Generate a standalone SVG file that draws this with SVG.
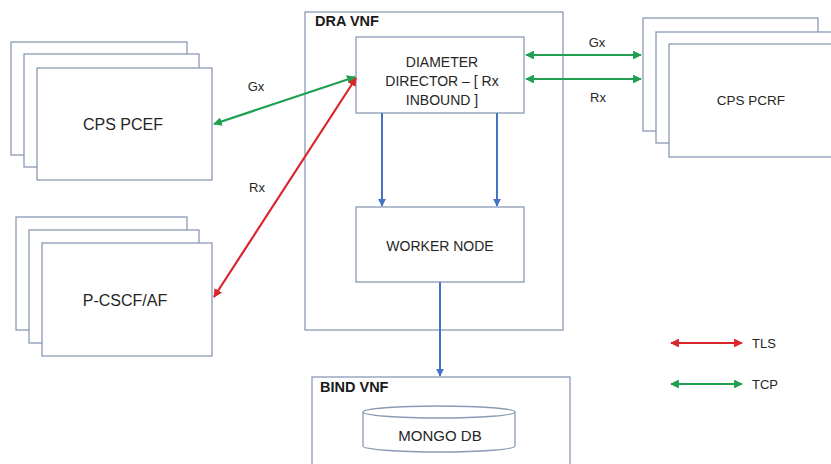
<svg xmlns="http://www.w3.org/2000/svg" width="831" height="464" viewBox="0 0 831 464">
<style>
.box{fill:#fff;stroke:#8a9ab5;stroke-width:1.3}
.t{font-family:"Liberation Sans",Arial,sans-serif;font-size:14px;fill:#262626;text-anchor:middle;dominant-baseline:central}
.tb{font-family:"Liberation Sans",Arial,sans-serif;font-size:14.5px;font-weight:bold;fill:#1a1a1a}
.lbl{font-family:"Liberation Sans",Arial,sans-serif;font-size:13px;fill:#262626;text-anchor:middle;dominant-baseline:central}
.g{stroke:#1fa050;stroke-width:2.2;fill:none;marker-start:url(#ga);marker-end:url(#ga)}
.r{stroke:#d9262b;stroke-width:2.2;fill:none;marker-start:url(#ra);marker-end:url(#ra)}
.b{stroke:#4472c4;stroke-width:2;fill:none;marker-end:url(#ba)}
</style>
<defs>
<marker id="ga" viewBox="0 0 10 10" refX="9" refY="5" markerWidth="4" markerHeight="4" orient="auto-start-reverse"><path d="M0,0 L10,5 L0,10 z" fill="#1fa050"/></marker>
<marker id="ra" viewBox="0 0 10 10" refX="9" refY="5" markerWidth="4" markerHeight="4" orient="auto-start-reverse"><path d="M0,0 L10,5 L0,10 z" fill="#d9262b"/></marker>
<marker id="ba" viewBox="0 0 10 10" refX="9" refY="5" markerWidth="4" markerHeight="4" orient="auto"><path d="M0,0 L10,5 L0,10 z" fill="#4472c4"/></marker>
</defs>
<rect width="831" height="464" fill="#fff"/>
<g id="cps-pcef">
<rect class="box" x="11" y="42" width="176" height="113"/>
<rect class="box" x="24" y="54" width="175" height="113"/>
<rect class="box" x="37" y="68" width="175" height="112"/>
<text class="t" x="123" y="124" style="font-size:16px">CPS PCEF</text>
</g>
<g id="p-cscf">
<rect class="box" x="16" y="217" width="171" height="113"/>
<rect class="box" x="29" y="230" width="170" height="113"/>
<rect class="box" x="42" y="243" width="170" height="113"/>
<text class="t" x="125" y="300" style="font-size:16px">P-CSCF/AF</text>
</g>
<g id="dra-vnf">
<rect class="box" x="305" y="12" width="258" height="318"/>
<text class="tb" x="315" y="26">DRA VNF</text>
</g>
<g id="diameter-director">
<rect class="box" x="356" y="37" width="168" height="76"/>
<text class="t" x="442" y="62">DIAMETER</text>
<text class="t" x="442" y="81">DIRECTOR – [ Rx</text>
<text class="t" x="442" y="100">INBOUND ]</text>
</g>
<g id="worker-node">
<rect class="box" x="356" y="207" width="168" height="75"/>
<text class="t" x="440" y="246">WORKER NODE</text>
</g>
<g id="cps-pcrf">
<rect class="box" x="643" y="18" width="175" height="113"/>
<rect class="box" x="656" y="32" width="180" height="111"/>
<rect class="box" x="669" y="44" width="170" height="113"/>
<text class="t" x="751" y="100" style="font-size:13.5px">CPS PCRF</text>
</g>
<g id="bind-vnf">
<rect class="box" x="312" y="377" width="258" height="95"/>
<text class="tb" x="320" y="392">BIND VNF</text>
</g>
<g id="mongo-db">
<path class="box" d="M363,412 L363,446 A76,6 0 0 0 515,446 L515,412"/>
<ellipse class="box" cx="439" cy="412" rx="76" ry="6"/>
<text class="t" x="440" y="435" style="font-size:15px">MONGO DB</text>
</g>
<g id="connectors">
<line class="g" x1="355" y1="77" x2="214" y2="124"/>
<line class="r" x1="356" y1="78" x2="214" y2="297"/>
<line class="g" x1="526" y1="55" x2="641" y2="55"/>
<line class="g" x1="526" y1="79" x2="641" y2="79"/>
<line class="b" x1="382" y1="113" x2="382" y2="206"/>
<line class="b" x1="497" y1="113" x2="497" y2="206"/>
<line class="b" x1="440" y1="282" x2="440" y2="376"/>
<text class="lbl" x="256" y="86">Gx</text>
<text class="lbl" x="257" y="187">Rx</text>
<text class="lbl" x="597" y="42">Gx</text>
<text class="lbl" x="598" y="97">Rx</text>
</g>
<g id="legend">
<line class="r" x1="671" y1="343" x2="742" y2="343"/>
<line class="g" x1="671" y1="384" x2="742" y2="384"/>
<text class="lbl" x="752" y="343" style="text-anchor:start">TLS</text>
<text class="lbl" x="752" y="384" style="text-anchor:start">TCP</text>
</g>
</svg>
